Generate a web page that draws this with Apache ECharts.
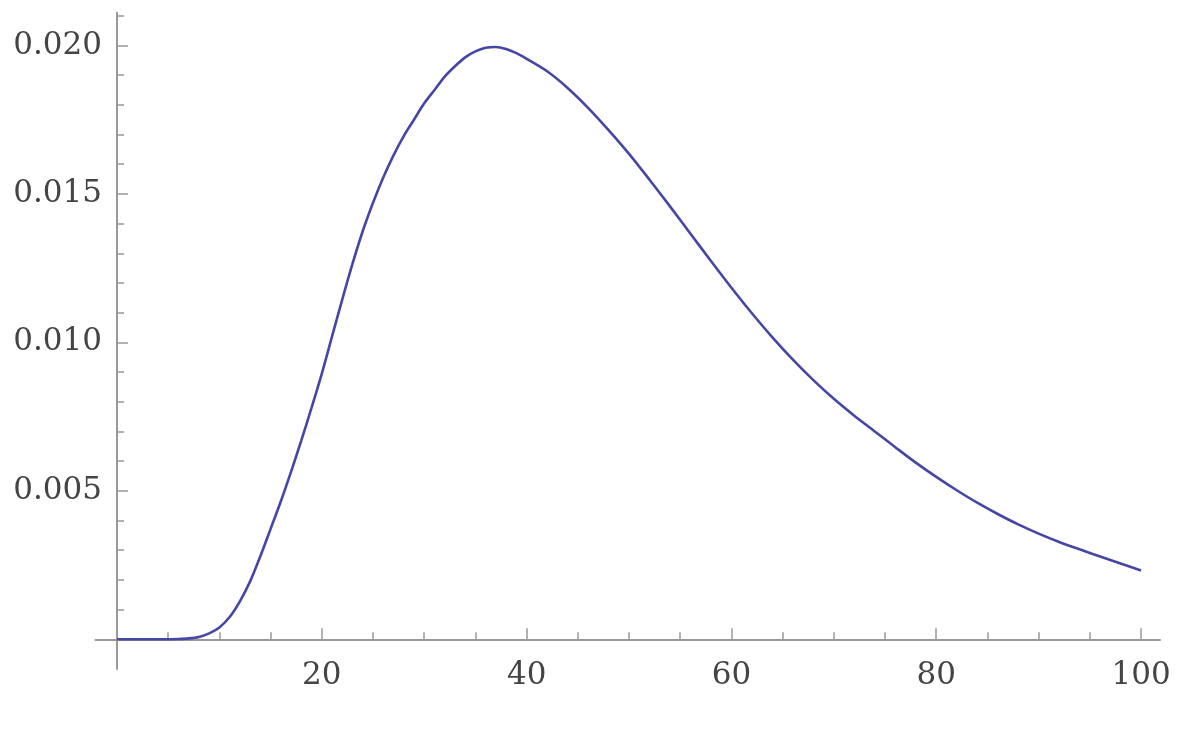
<!DOCTYPE html>
<html>
<head>
<meta charset="utf-8">
<script src="https://cdn.jsdelivr.net/npm/echarts@6/dist/echarts.min.js"></script>
<style>
html,body{margin:0;padding:0;background:#fff;}
#chart{width:1196px;height:732px;}
</style>
</head>
<body>
<div id="chart"></div>
<script>
// x values
const xs = [0,2,4,5,6,7,8,9,10,11,12,13,14,15,16,17,18,19,20,21,22,23,24,25,26,27,28,29,30,31,32,33,34,35,36,37,38,39,40,42,44,46,48,50,52,54,56,58,60,62,64,66,68,70,72,74,76,78,80,82,84,86,88,90,92,94,96,98,100];
// y values (x 1e-3)
const ysMilli = [0,0,0,0.003,0.01,0.03,0.08,0.2,0.4,0.75,1.28,1.95,2.8,3.72,4.65,5.65,6.7,7.8,8.95,10.2,11.45,12.65,13.75,14.7,15.55,16.3,16.95,17.5,18.05,18.5,18.95,19.3,19.6,19.8,19.92,19.95,19.88,19.74,19.55,19.13,18.57,17.9,17.15,16.35,15.48,14.58,13.66,12.74,11.84,10.98,10.17,9.42,8.73,8.1,7.53,7.0,6.47,5.95,5.47,5.02,4.6,4.22,3.87,3.56,3.28,3.03,2.79,2.55,2.32];
const xTickLabels = [20,40,60,80,100];
const yTickLabels = [0.005,0.010,0.015,0.020];

const data = xs.map((x,i)=>[x, ysMilli[i]/1000]);

const chart = echarts.init(document.getElementById('chart'));
const axisCol = '#999999';
const font = {fontFamily:'DejaVu Serif', fontSize:31, color:'#444444'};
chart.setOption({
  animation:false,
  backgroundColor:'#ffffff',
  grid:{left:95.5, width:1064.5, top:12.8, height:656.2, containLabel:false, outerBoundsMode:'none'},
  xAxis:{
    type:'value', min:-2.1, max:101.85, splitNumber:5,
    axisLine:{show:true, onZero:true, lineStyle:{color:axisCol, width:2}},
    axisTick:{show:true, inside:true, length:11, customValues:xTickLabels, lineStyle:{color:axisCol, width:1.5}},
    minorTick:{show:true, splitNumber:4, length:7, lineStyle:{color:axisCol, width:1.5}},
    axisLabel:Object.assign({show:true, margin:-9, customValues:xTickLabels, formatter:v=>String(v)}, font),
    splitLine:{show:false}
  },
  yAxis:{
    type:'value', min:-0.001, max:0.0211, splitNumber:5,
    axisLine:{show:true, onZero:true, lineStyle:{color:axisCol, width:2}},
    axisTick:{show:true, inside:true, length:11, customValues:yTickLabels, lineStyle:{color:axisCol, width:1.5}},
    minorTick:{show:true, splitNumber:5, length:7, lineStyle:{color:axisCol, width:1.5}},
    axisLabel:Object.assign({show:true, margin:-6.5, customValues:yTickLabels, formatter:v=>Number(v).toFixed(3)}, font),
    splitLine:{show:false}
  },
  series:[{
    type:'line', data:data, showSymbol:false, smooth:0.3,
    lineStyle:{color:'#4646a4', width:2.6}, z:3
  }]
});
</script>
</body>
</html>
